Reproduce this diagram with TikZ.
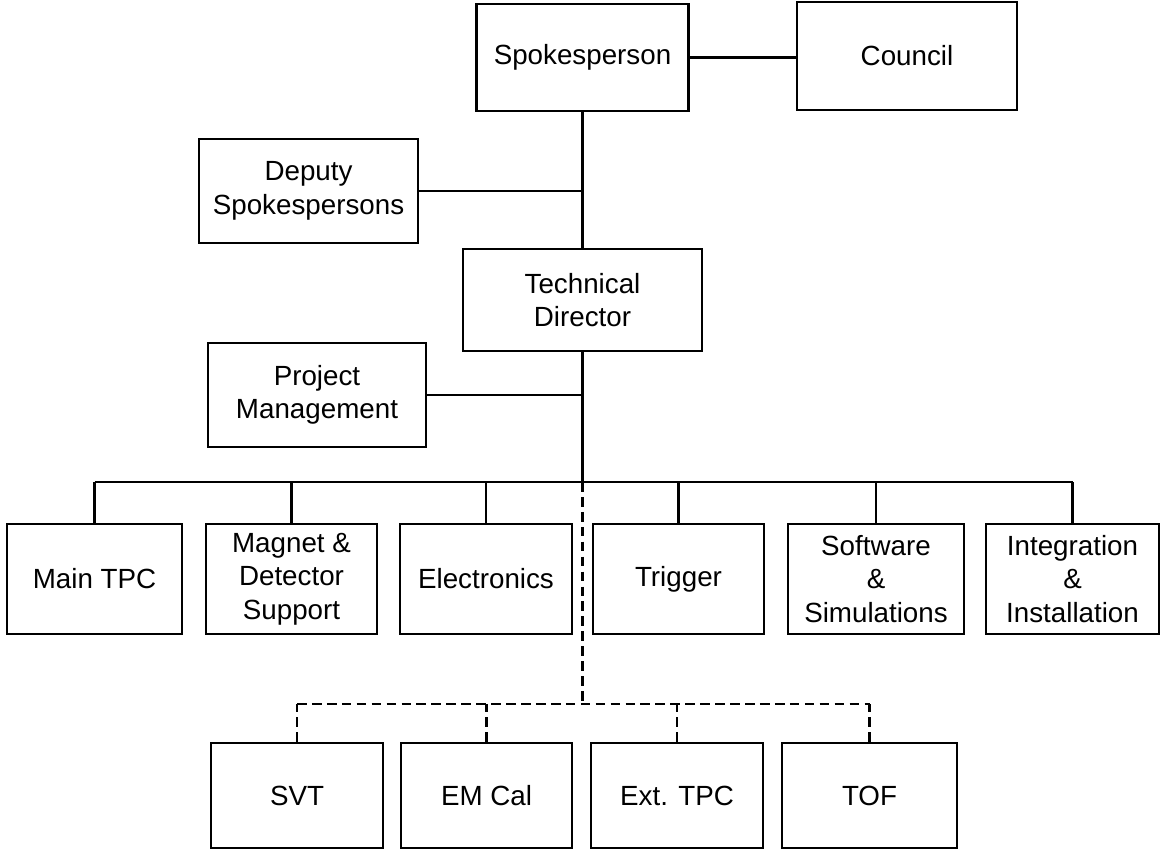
\documentclass[tikz,border=0pt]{standalone}
\usepackage{fontspec}
\setmainfont{Liberation Sans}
\begin{document}
\begin{tikzpicture}[x=0.02cm,y=-0.02cm,line width=1.4pt,
  box/.style={draw,line width=1.5pt,align=center,inner sep=0pt,font=\fontsize{15.8}{19}\selectfont},
  row/.style={box,minimum height=2.2cm},
  lowrow/.style={box,minimum height=2.1cm},
  sub/.style={dash pattern=on 5.5pt off 3pt}]
\useasboundingbox (0,0) rectangle (1160,853);
% top of the tree
\node[box,minimum width=4.24cm,minimum height=2.14cm] (spk) at (582.5,57.5) {Spokesperson};
\node[box,minimum width=4.4cm,minimum height=2.16cm] (council) at (907,56) {Council};
\node[box,minimum width=4.38cm,minimum height=2.08cm] (deputy) at (308.5,191) {Deputy\\Spokespersons};
\node[box,minimum width=4.78cm,minimum height=2.04cm] (tdir) at (582.5,300) {Technical\\Director};
\node[box,minimum width=4.36cm,minimum height=2.08cm] (pm) at (317,395) {Project\\Management};
% groups
\node[row,minimum width=3.5cm] (maintpc) at (94.5,579) {Main TPC};
\node[row,minimum width=3.42cm] (magnet) at (291.5,579) {Magnet \&\\Detector\\Support};
\node[row,minimum width=3.44cm] (electronics) at (486,579) {Electronics};
\node[row,minimum width=3.42cm] (trigger) at (678.5,579) {Trigger};
\node[row,minimum width=3.52cm] (software) at (876,579) {Software\\\&\\Simulations};
\node[row,minimum width=3.46cm] (integration) at (1072.5,579) {Integration\\\&\\Installation};
\node[lowrow,minimum width=3.44cm] (svt) at (297,795.5) {SVT};
\node[lowrow,minimum width=3.42cm] (emcal) at (486.5,795.5) {EM Cal};
\node[lowrow,minimum width=3.44cm] (exttpc) at (677,795.5) {Ext. TPC};
\node[lowrow,minimum width=3.5cm] (tof) at (869.5,795.5) {TOF};
\coordinate (hub) at (582.5,482);
\coordinate (subhub) at (582.5,704);
% lines
\draw (spk.east) -- (spk.east -| council.west);
\draw (spk.south) -- (tdir.north);
\draw (deputy.east) -- (deputy.east -| tdir.north);
\draw (tdir.south) -- (hub);
\draw (pm.east) -- (pm.east -| hub);
\draw (maintpc.north |- hub) -- (integration.north |- hub);
\foreach \n in {maintpc,magnet,electronics,trigger,software,integration}
  \draw (\n.north) -- (\n.north |- hub);
\draw[sub] (hub) -- (subhub);
\draw[sub] (svt.north |- subhub) -- (tof.north |- subhub);
\foreach \n in {svt,emcal,exttpc,tof}
  \draw[sub] (\n.north) -- (\n.north |- subhub);
\end{tikzpicture}
\end{document}
